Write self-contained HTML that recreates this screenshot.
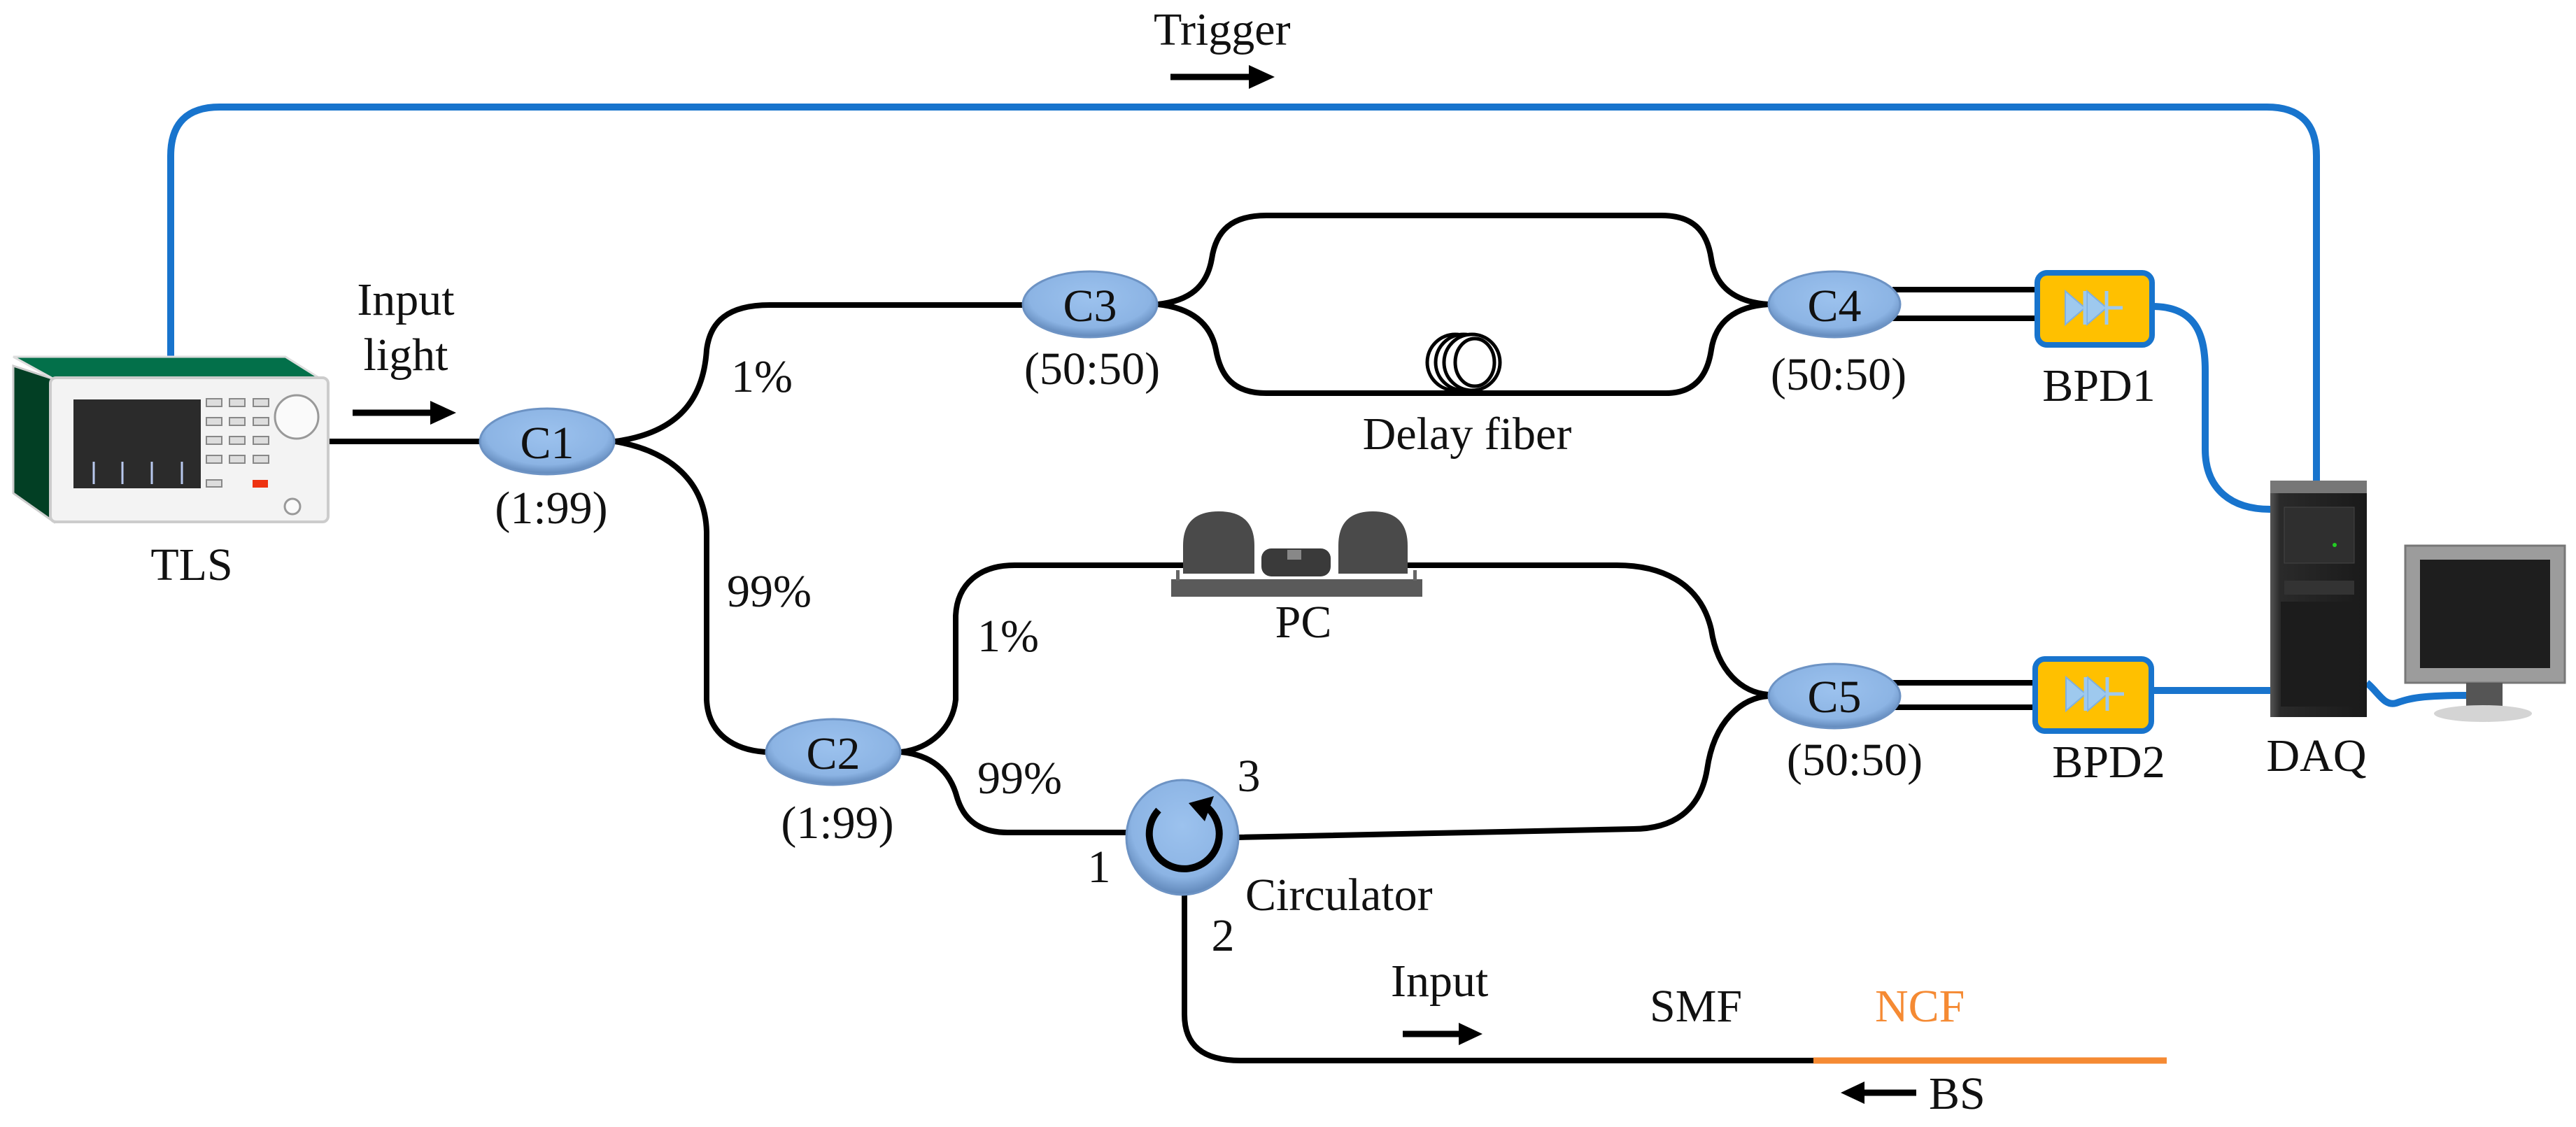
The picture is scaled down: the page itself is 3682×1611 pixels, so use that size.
<!DOCTYPE html>
<html><head><meta charset="utf-8"><style>
html,body{margin:0;padding:0;background:#fff;}
svg{display:block;}
svg text{font-family:"Liberation Serif","Times New Roman","DejaVu Serif",serif;font-size:66px;fill:#111;}
</style></head><body>
<svg width="3682" height="1611" viewBox="0 0 3682 1611" xmlns="http://www.w3.org/2000/svg" font-family="Liberation Serif, Times New Roman, DejaVu Serif, serif">
<defs>
<radialGradient id="cg" cx="50%" cy="40%" r="60%">
<stop offset="0%" stop-color="#9cc2ee"/><stop offset="75%" stop-color="#8cb4e4"/><stop offset="100%" stop-color="#5f86b8"/>
</radialGradient>
<linearGradient id="tw" x1="0" y1="0" x2="1" y2="0"><stop offset="0" stop-color="#555"/><stop offset="0.1" stop-color="#2a2a2a"/><stop offset="1" stop-color="#1a1a1a"/></linearGradient>
</defs>

<g fill="none" stroke="#1874cd" stroke-width="10">
<path d="M244,510 V223 Q244,153 314,153 H3240 Q3311,153 3311,223 V697"/>
<path d="M3076,438 C3140,438 3152,480 3152,530 V642 C3152,700 3190,728 3245,728"/>
<path d="M3076,987 H3245"/>
<path d="M3383,976 C3400,990 3408,1010 3425,1005 C3445,998 3460,994 3530,994"/>
</g>

<g fill="none" stroke="#000" stroke-width="8">
<path d="M469,631 H689"/>
<path d="M879,631 C960,620 1005,580 1010,500 C1015,460 1040,436 1100,436 H1462"/>
<path d="M879,631 C960,645 1008,690 1010,760 V1000 C1012,1050 1050,1072 1094,1075"/>
<path d="M1655,435 C1700,430 1725,410 1732,370 C1738,330 1760,308 1810,308 H2375 C2420,308 2440,330 2446,370 C2452,410 2480,432 2528,435"/>
<path d="M1655,435 C1700,440 1730,460 1738,500 C1745,540 1765,562 1810,562 H2381 C2420,562 2440,540 2446,500 C2452,460 2480,438 2528,435"/>
<path d="M2705,414 H2912 M2705,455 H2912"/>
<path d="M1288,1075 C1330,1070 1362,1040 1366,1000 V880 C1368,835 1400,808 1450,808 H1691"/>
<path d="M2012,808 H2311 C2370,808 2430,830 2446,900 C2455,960 2490,990 2528,993"/>
<path d="M1288,1075 C1340,1080 1360,1110 1368,1140 C1380,1180 1410,1190 1440,1190 H1611"/>
<path d="M1769,1197 L2334,1185 C2390,1185 2430,1160 2440,1100 C2450,1030 2490,997 2528,995"/>
<path d="M2705,976 H2909 M2705,1011 H2909"/>
<path d="M1693,1277 V1450 C1693,1495 1720,1516 1773,1516 H2592"/>
</g>
<path d="M2592,1516 H3097" stroke="#f58a33" stroke-width="9"/>

<g fill="none" stroke="#000" stroke-width="5">
<ellipse cx="2080" cy="518" rx="40" ry="40"/>
<ellipse cx="2092" cy="518" rx="40" ry="40"/>
<ellipse cx="2104" cy="518" rx="40" ry="40" fill="#fff"/>
<ellipse cx="2108" cy="518" rx="28" ry="34" fill="#fff"/>
</g>

<g stroke="#000" stroke-width="9" fill="#000">
<line x1="1673" y1="110" x2="1790" y2="110"/><path d="M1785,93 L1822,110 L1785,127Z" stroke="none"/>
<line x1="504" y1="590" x2="620" y2="590"/><path d="M615,573 L652,590 L615,607Z" stroke="none"/>
<line x1="2005" y1="1478" x2="2090" y2="1478"/><path d="M2085,1462 L2119,1478 L2085,1494Z" stroke="none"/>
<line x1="2739" y1="1562" x2="2660" y2="1562"/><path d="M2665,1546 L2631,1562 L2665,1578Z" stroke="none"/>
</g>

<g>
<path d="M19,523 L77,542 L77,746 L19,705Z" fill="#023f24" stroke="#ccc" stroke-width="3"/>
<path d="M19,510 L408,510 L459,542 L77,542Z" fill="#03704a" stroke="#ddd" stroke-width="3"/>
<rect x="72" y="540" width="397" height="206" rx="8" fill="#f3f3f3" stroke="#ccc" stroke-width="4"/>
<rect x="105" y="571" width="182" height="127" fill="#2b2b2b"/>
<g stroke="#b8c8ee" stroke-width="3"><line x1="134" y1="660" x2="134" y2="692"/><line x1="175" y1="660" x2="175" y2="692"/><line x1="217" y1="660" x2="217" y2="692"/><line x1="260" y1="660" x2="260" y2="692"/></g>
<g fill="#ddd" stroke="#888" stroke-width="2">
<rect x="295" y="570" width="22" height="11"/><rect x="328" y="570" width="22" height="11"/><rect x="362" y="570" width="22" height="11"/>
<rect x="295" y="597" width="22" height="11"/><rect x="328" y="597" width="22" height="11"/><rect x="362" y="597" width="22" height="11"/>
<rect x="295" y="624" width="22" height="11"/><rect x="328" y="624" width="22" height="11"/><rect x="362" y="624" width="22" height="11"/>
<rect x="295" y="651" width="22" height="11"/><rect x="328" y="651" width="22" height="11"/><rect x="362" y="651" width="22" height="11"/>
<rect x="295" y="686" width="22" height="10"/>
</g>
<rect x="361" y="686" width="22" height="11" fill="#ee3311"/>
<circle cx="424" cy="596" r="31" fill="#fafafa" stroke="#999" stroke-width="3"/>
<circle cx="418" cy="724" r="11" fill="#fafafa" stroke="#999" stroke-width="3"/>
</g>

<g fill="url(#cg)" stroke="#6d93c4" stroke-width="3">
<ellipse cx="782" cy="631" rx="96" ry="47"/>
<ellipse cx="1558" cy="435" rx="96" ry="47"/>
<ellipse cx="2622" cy="435" rx="94" ry="47"/>
<ellipse cx="1191" cy="1075" rx="96" ry="47"/>
<ellipse cx="2622" cy="995" rx="94" ry="46"/>
<ellipse cx="1690" cy="1197" rx="80" ry="82"/>
</g>
<path d="M1656,1158 A50,50 0 1 0 1720,1150" fill="none" stroke="#000" stroke-width="10"/>
<path d="M1699,1148 L1735,1138 L1722,1174Z" fill="#000"/>

<g fill="#4a4a4a">
<rect x="1674" y="828" width="359" height="25" fill="#5a5a5a"/>
<rect x="1681" y="815" width="5" height="15" fill="#666"/><rect x="2020" y="815" width="5" height="15" fill="#666"/>
<path d="M1691,820 V780 Q1691,731 1742,731 Q1793,731 1793,780 V820Z"/>
<path d="M1913,820 V780 Q1913,731 1962,731 Q2012,731 2012,780 V820Z"/>
<rect x="1803" y="784" width="99" height="40" rx="14" fill="#3a3a3a"/>
<rect x="1840" y="786" width="20" height="14" fill="#888"/>
</g>

<g>
<rect x="2912" y="390" width="164" height="103" rx="14" fill="#ffc000" stroke="#1874cd" stroke-width="8"/>
<rect x="2909" y="942" width="166" height="103" rx="14" fill="#ffc000" stroke="#1874cd" stroke-width="8"/>
<g fill="#9ec9ee" stroke="#7fb0e0" stroke-width="2">
<path d="M2952,416 L2980,440 L2952,464Z M2983,416 L3011,440 L2983,464Z"/>
<path d="M2953,968 L2981,992 L2953,1016Z M2984,968 L3012,992 L2984,1016Z"/>
</g>
<g stroke="#9ec9ee" stroke-width="5"><line x1="2980" y1="416" x2="2980" y2="464"/><line x1="3011" y1="416" x2="3011" y2="464"/><line x1="3011" y1="440" x2="3034" y2="440"/>
<line x1="2981" y1="968" x2="2981" y2="1016"/><line x1="3012" y1="968" x2="3012" y2="1016"/><line x1="3012" y1="992" x2="3036" y2="992"/></g>
</g>

<g>
<rect x="3245" y="687" width="138" height="338" fill="url(#tw)"/>
<rect x="3245" y="687" width="138" height="18" fill="#777"/>
<rect x="3265" y="725" width="100" height="80" fill="#2f2f2f" stroke="#444"/>
<rect x="3265" y="830" width="100" height="20" fill="#333"/>
<rect x="3260" y="860" width="110" height="150" fill="#1c1c1c"/>
<circle cx="3337" cy="779" r="3" fill="#2c2"/>
</g>
<g>
<rect x="3438" y="780" width="228" height="196" fill="#9c9c9c" stroke="#777" stroke-width="3"/>
<rect x="3459" y="800" width="186" height="155" fill="#1e1e1e"/>
<rect x="3525" y="976" width="52" height="34" fill="#555"/>
<ellipse cx="3549" cy="1020" rx="70" ry="12" fill="#d4d4d4"/>
</g>

<g font-family="Liberation Serif, Times New Roman, DejaVu Serif, serif" font-size="66">
<text x="1649" y="64">Trigger</text>
<text x="580" y="450" text-anchor="middle">Input</text>
<text x="580" y="529" text-anchor="middle">light</text>
<text x="274" y="829" text-anchor="middle">TLS</text>
<text x="782" y="655" text-anchor="middle" font-size="64">C1</text>
<text x="788" y="748" text-anchor="middle">(1:99)</text>
<text x="1045" y="560">1%</text>
<text x="1558" y="459" text-anchor="middle" font-size="64">C3</text>
<text x="1561" y="549" text-anchor="middle">(50:50)</text>
<text x="2622" y="459" text-anchor="middle" font-size="64">C4</text>
<text x="2628" y="557" text-anchor="middle">(50:50)</text>
<text x="2097" y="642" text-anchor="middle">Delay fiber</text>
<text x="3000" y="573" text-anchor="middle">BPD1</text>
<text x="1039" y="867">99%</text>
<text x="1397" y="931">1%</text>
<text x="1863" y="911" text-anchor="middle">PC</text>
<text x="1191" y="1099" text-anchor="middle" font-size="64">C2</text>
<text x="1197" y="1198" text-anchor="middle">(1:99)</text>
<text x="1397" y="1134">99%</text>
<text x="2622" y="1018" text-anchor="middle" font-size="64">C5</text>
<text x="2651" y="1108" text-anchor="middle">(50:50)</text>
<text x="3014" y="1111" text-anchor="middle">BPD2</text>
<text x="3311" y="1102" text-anchor="middle">DAQ</text>
<text x="1785" y="1131" text-anchor="middle">3</text>
<text x="1571" y="1261" text-anchor="middle">1</text>
<text x="1748" y="1359" text-anchor="middle">2</text>
<text x="1780" y="1301">Circulator</text>
<text x="1988" y="1424">Input</text>
<text x="2358" y="1460">SMF</text>
<text x="2680" y="1460" style="fill:#f58a33">NCF</text>
<text x="2757" y="1585">BS</text>
</g>
</svg>
</body></html>
